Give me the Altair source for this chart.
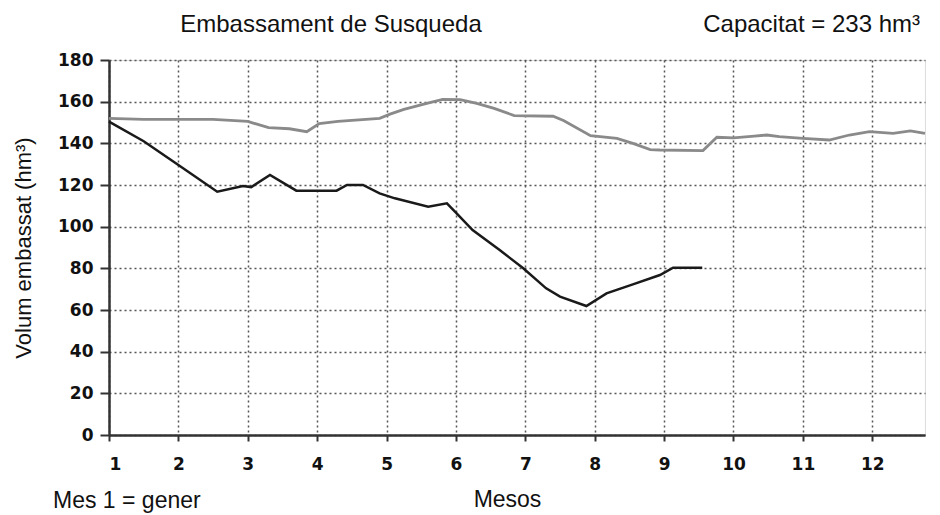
import altair as alt
import pandas as pd

# Upper (grey) series: month position, volume hm3
grey_x = [1.0, 1.5, 2.0, 2.5, 3.0, 3.3, 3.6, 3.85, 4.03, 4.3, 4.9, 5.05, 5.25, 5.58, 5.81,
          6.06, 6.3, 6.55, 6.84, 7.4, 7.55, 7.94, 8.32, 8.55, 8.8, 8.94, 9.56, 9.76, 10.0,
          10.3, 10.48, 10.66, 11.0, 11.38, 11.67, 11.96, 12.3, 12.55, 12.76]
grey_y = [152, 151.5, 151.5, 151.5, 150.5, 147.5, 147, 145.6, 149.5, 150.5, 152, 154, 156.3,
          159.2, 161.1, 161, 159.2, 156.8, 153.3, 153, 151, 143.7, 142.4, 140, 137, 136.8,
          136.5, 142.9, 142.6, 143.5, 144, 143.2, 142.4, 141.6, 144, 145.6, 144.8, 146, 144.8]

# Lower (black) series
black_x = [1.0, 1.5, 2.0, 2.56, 2.93, 3.05, 3.32, 3.7, 4.28, 4.43, 4.66, 4.9, 5.12, 5.6,
           5.87, 6.01, 6.24, 6.63, 6.97, 7.3, 7.5, 7.88, 8.17, 8.55, 8.94, 9.13, 9.55]
black_y = [150.4, 141, 129.6, 116.8, 119.5, 119, 124.8, 117.3, 117.3, 120, 120, 116, 113.6,
           109.6, 111.2, 106.4, 98.4, 88.8, 80, 70.4, 66.4, 61.9, 68, 72.3, 76.8, 80.3, 80.3]

x_ticks = list(range(1, 13))
y_ticks = list(range(0, 181, 20))

title_text = "Embassament de Susqueda"
cap_text = "Capacitat = 233 hm³"
note_text = "Mes 1 = gener"
x_title = "Mesos"
y_title = "Volum embassat (hm³)"

W, H = 816, 375
FONT = "Liberation Sans"
TICKFONT = "DejaVu Sans"

df_grey = pd.DataFrame({"mes": grey_x, "vol": grey_y})
df_black = pd.DataFrame({"mes": black_x, "vol": black_y})

xscale = alt.Scale(domain=[1, 12.76], nice=False, zero=False)
yscale = alt.Scale(domain=[0, 180], nice=False)

xaxis = alt.Axis(values=x_ticks, format="d", grid=True, gridColor="#555", gridDash=[2, 3],
                 gridWidth=1.5, domainColor="#333", domainWidth=2.5, tickColor="#333",
                 tickSize=6, tickWidth=2, labelFont=TICKFONT, labelFontSize=17,
                 labelFontWeight="bold", labelColor="#111", labelPadding=15,
                 title=x_title, titleFont=FONT, titleFontSize=23, titleFontWeight="normal",
                 titleColor="#111", titleX=398, titleY=71, titleBaseline="alphabetic",
                 titleAlign="center")
yaxis = alt.Axis(values=y_ticks, grid=True, gridColor="#555", gridDash=[2, 3], gridWidth=1.5,
                 domainColor="#333", domainWidth=2.5, tickColor="#333", tickSize=9, tickWidth=2,
                 labelFont=TICKFONT, labelFontSize=17, labelFontWeight="bold", labelColor="#111",
                 labelPadding=7, title=y_title, titleFont=FONT, titleFontSize=22,
                 titleFontWeight="normal", titleColor="#111", titleAngle=-90, titleX=-86,
                 titleY=H / 2, titleAlign="center", titleBaseline="middle")

grey = alt.Chart(df_grey).mark_line(color="#8a8a8a", strokeWidth=2.8).encode(
    x=alt.X("mes:Q", scale=xscale, axis=xaxis),
    y=alt.Y("vol:Q", scale=yscale, axis=yaxis),
)
black = alt.Chart(df_black).mark_line(color="#1a1a1a", strokeWidth=2.5).encode(
    x=alt.X("mes:Q", scale=xscale),
    y=alt.Y("vol:Q", scale=yscale),
)

t1 = alt.Chart(pd.DataFrame({"t": [title_text]})).mark_text(
    font=FONT, fontSize=24, color="#111", align="center", baseline="alphabetic"
).encode(text="t:N", x=alt.value(222), y=alt.value(-28))
t2 = alt.Chart(pd.DataFrame({"t": [cap_text]})).mark_text(
    font=FONT, fontSize=24, color="#111", align="right", baseline="alphabetic"
).encode(text="t:N", x=alt.value(811), y=alt.value(-28))
t3 = alt.Chart(pd.DataFrame({"t": [note_text]})).mark_text(
    font=FONT, fontSize=23, color="#111", align="left", baseline="alphabetic"
).encode(text="t:N", x=alt.value(-56), y=alt.value(448))

chart = alt.layer(grey, black, t1, t2, t3).properties(
    width=W, height=H,
    autosize=alt.AutoSizeParams(type="none"),
    padding={"left": 101, "top": 52, "right": 6, "bottom": 78},
).configure_view(stroke="#888", strokeWidth=2).configure(background="white")

chart.save("out.html", embed_options={"renderer": "svg", "actions": False})
